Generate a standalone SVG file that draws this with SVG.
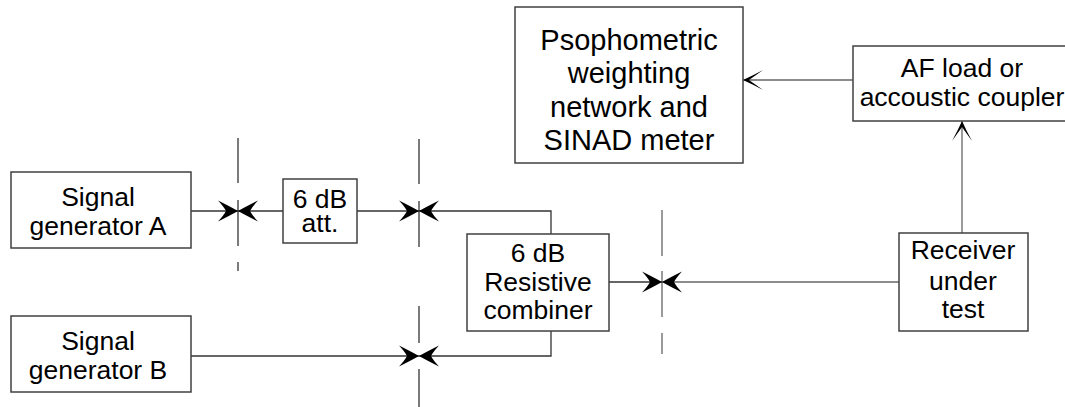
<svg xmlns="http://www.w3.org/2000/svg" width="1065" height="407" viewBox="0 0 1065 407">
<style>
.box{fill:#fff;stroke:#404040;stroke-width:1.5}
.t{font-family:"Liberation Sans",Arial,sans-serif;font-size:26.5px;fill:#000;text-anchor:middle}
.big{font-size:29px}
.c{fill:none;stroke:#333;stroke-width:1.3}
.cg{fill:none;stroke:#666;stroke-width:1.3}
.ref{stroke:#333;stroke-width:1.3}
.refg{stroke:#808080;stroke-width:1.6}
</style>
<defs>
<marker id="dart" viewBox="-21 -11 22 22" refX="0" refY="0" markerWidth="22" markerHeight="22" markerUnits="userSpaceOnUse" orient="auto">
<path d="M0,0 Q-8,-4.5 -20,-10.5 Q-14,-4 -12,0 Q-14,4 -20,10.5 Q-8,4.5 0,0 Z" fill="#000"/>
</marker>
<marker id="thin" viewBox="-21 -11 22 22" refX="0" refY="0" markerWidth="22" markerHeight="22" markerUnits="userSpaceOnUse" orient="auto">
<path d="M0,0 Q-10,-4.5 -20,-10 Q-11,-3.5 -6,0 Q-11,3.5 -20,10 Q-10,4.5 0,0 Z" fill="#000"/>
</marker>
</defs>

<g id="reference-planes">
<line class="ref" x1="238" y1="138" x2="238" y2="183"/>
<line class="ref" x1="238" y1="200" x2="238" y2="246"/>
<line class="ref" x1="238" y1="262" x2="238" y2="271"/>
<line class="ref" x1="419" y1="139" x2="419" y2="184"/>
<line class="ref" x1="419" y1="201" x2="419" y2="247"/>
<line class="ref" x1="419" y1="306" x2="419" y2="343"/>
<line class="ref" x1="419" y1="369" x2="419" y2="407"/>
<line class="refg" x1="662" y1="210" x2="662" y2="256"/>
<line class="refg" x1="662" y1="271" x2="662" y2="317"/>
<line class="refg" x1="662" y1="333" x2="662" y2="354"/>
</g>

<g id="connectors">
<path class="c" d="M191,211 H238" marker-end="url(#dart)"/>
<path class="c" d="M283,211 H238" marker-end="url(#dart)"/>
<path class="c" d="M357,211 H419" marker-end="url(#dart)"/>
<path class="c" d="M551,234 V211 H419" marker-end="url(#dart)"/>
<path class="c" d="M191,356 H419" marker-end="url(#dart)"/>
<path class="c" d="M551,331 V356 H419" marker-end="url(#dart)"/>
<path class="c" d="M609,282 H662" marker-end="url(#dart)"/>
<path class="cg" d="M899,282 H662" marker-end="url(#dart)"/>
<path class="cg" d="M962,233 V121" marker-end="url(#thin)"/>
<path class="cg" d="M853,80 H743" marker-end="url(#thin)"/>
</g>

<g id="signal-generator-a">
<rect class="box" x="11" y="172" width="180" height="76"/>
<text class="t" x="98" y="206">Signal</text>
<text class="t" x="98" y="235">generator A</text>
</g>

<g id="signal-generator-b">
<rect class="box" x="11" y="316" width="180" height="76"/>
<text class="t" x="98" y="350">Signal</text>
<text class="t" x="98" y="379">generator B</text>
</g>

<g id="attenuator">
<rect class="box" x="283" y="179" width="74" height="64"/>
<text class="t" x="320" y="208">6 dB</text>
<text class="t" x="320" y="232">att.</text>
</g>

<g id="combiner">
<rect class="box" x="467" y="234" width="142" height="97"/>
<text class="t" x="538" y="262">6 dB</text>
<text class="t" x="538" y="291">Resistive</text>
<text class="t" x="538" y="319">combiner</text>
</g>

<g id="receiver">
<rect class="box" x="899" y="233" width="129" height="98"/>
<text class="t" x="963" y="259">Receiver</text>
<text class="t" x="963" y="290">under</text>
<text class="t" x="963" y="318">test</text>
</g>

<g id="af-load">
<rect class="box" x="853" y="46" width="218" height="75"/>
<text class="t" x="962" y="77">AF load or</text>
<text class="t" x="962" y="106">accoustic coupler</text>
</g>

<g id="psophometric">
<rect class="box" x="515" y="7" width="228" height="156"/>
<text class="t big" x="629" y="50">Psophometric</text>
<text class="t big" x="629" y="83">weighting</text>
<text class="t big" x="629" y="117">network and</text>
<text class="t big" x="629" y="150">SINAD meter</text>
</g>
</svg>
